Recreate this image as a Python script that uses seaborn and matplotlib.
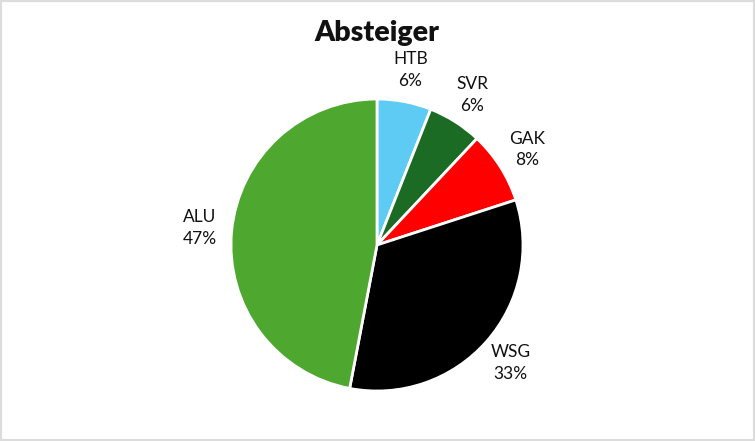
import matplotlib
matplotlib.use("Agg")
import matplotlib.pyplot as plt
import seaborn as sns
from matplotlib.patches import Rectangle

sns.set_theme(style="white")
plt.rcParams["font.family"] = ["Lato", "DejaVu Sans"]

teams = ["HTB", "SVR", "GAK", "WSG", "ALU"]
shares = [6, 6, 8, 33, 47]
colors = ["#5dcbf3", "#1b6b24", "#ff0000", "#000000", "#4ea72e"]

W, H = 755, 441
fig = plt.figure(figsize=(W / 100, H / 100), dpi=100)
fig.patch.set_facecolor("white")

cx, cy, r = 377, 245, 146
ax = fig.add_axes([(cx - r) / W, (H - cy - r) / H, 2 * r / W, 2 * r / H])

labels = [f"{t}\n{s}%" for t, s in zip(teams, shares)]
wedges, texts = ax.pie(
    shares,
    labels=labels,
    colors=colors,
    startangle=90,
    counterclock=False,
    labeldistance=1.22,
    wedgeprops=dict(edgecolor="white", linewidth=2),
    textprops=dict(fontsize=12.5, color="#111111", linespacing=1.45),
)
for t in texts:
    t.set_ha("center")
    t.set_va("center")
    t.set_clip_on(False)
ax.set_xlim(-1, 1)
ax.set_ylim(-1, 1)
ax.set_aspect("equal")
ax.axis("off")

fig.text(cx / W, 1 - 33 / H, "Absteiger", ha="center", va="center",
         fontsize=20.5, fontweight="heavy", color="#111111")

fig.patches.append(Rectangle((0, 0), 1, 1, transform=fig.transFigure,
                             fill=False, edgecolor="#dcdcdc", linewidth=3))

fig.savefig("out.png", dpi=100)
